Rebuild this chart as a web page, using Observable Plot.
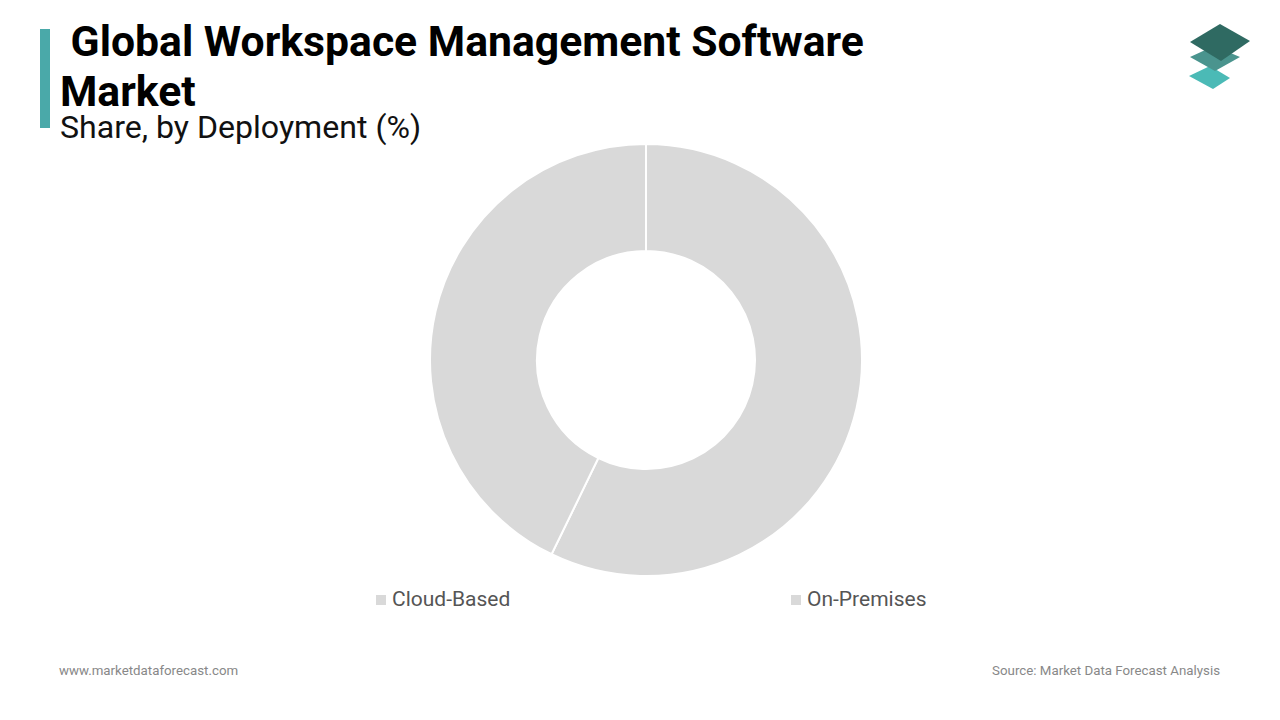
<!DOCTYPE html>
<html>
<head>
<meta charset="utf-8">
<script src="https://cdn.jsdelivr.net/npm/d3@7"></script>
<script src="https://cdn.jsdelivr.net/npm/@observablehq/plot@0.6"></script>
<style>
  html, body { margin: 0; padding: 0; background: #fff; }
  body { width: 1280px; height: 720px; position: relative; overflow: hidden; font-family: Roboto, "Noto Sans", sans-serif; }
  .bar { position: absolute; left: 40px; top: 29px; width: 10px; height: 99px; background: #4aa9a9; }
  .title { position: absolute; left: 60px; top: 16px; font-size: 42.7px; font-weight: 700; color: #000; line-height: 50px; white-space: pre; }
  .subtitle { position: absolute; left: 60px; top: 109px; font-size: 32.1px; color: #111; line-height: 36px; white-space: nowrap; }
  #chart { position: absolute; left: 0; top: 135px; }
  .legend { position: absolute; top: 587px; font-size: 21px; line-height: 24px; color: #555; display: flex; align-items: center; white-space: nowrap; }
  .legend .sw { width: 10px; height: 10px; margin-right: 6px; margin-top: 1px; }
  .foot { position: absolute; top: 663px; font-size: 13.3px; line-height: 16px; color: #888; white-space: nowrap; }
  .logo { position: absolute; left: 1170px; top: 15px; }
</style>
</head>
<body>
<div class="bar"></div>
<div class="title"> Global Workspace Management Software
Market</div>
<div class="subtitle">Share, by Deployment (%)</div>
<svg class="logo" width="100" height="85" viewBox="1170 15 100 85">
  <polygon points="1189,76 1210,66 1230,78 1213,89" fill="#4bbab6"/>
  <polygon points="1190,57 1214,46 1240,57 1215,71" fill="#4a948e"/>
  <polygon points="1190,42 1220,24 1250,41 1221,61" fill="#2f6a62"/>
</svg>
<div id="chart"></div>
<div id="legend"></div>
<div class="foot" style="left:59px">www.marketdataforecast.com</div>
<div class="foot" style="right:60px">Source: Market Data Forecast Analysis</div>
<script>
const categories = ["Cloud-Based", "On-Premises"];
const shares = [57.2, 42.8];
const colors = ["#d9d9d9", "#d9d9d9"];

const data = categories.map((c, i) => ({category: c, share: shares[i]}));

const W = 1280, H = 450;
const cx = 646, cy = 225, outerR = 216, innerR = 109;

function donutMark(index, scales, values, dimensions, context) {
  const pie = d3.pie().value(d => d.share).sort(null);
  const arc = d3.arc().innerRadius(innerR).outerRadius(outerR);
  const g = d3.create("svg:g").attr("transform", `translate(${cx},${cy})`);
  g.selectAll("path")
    .data(pie(data))
    .join("path")
    .attr("d", arc)
    .attr("fill", d => scales.color(d.data.category))
    .attr("stroke", "#fff")
    .attr("stroke-width", 2);
  return g.node();
}

const plot = Plot.plot({
  width: W,
  height: H,
  margin: 0,
  x: {axis: null, domain: [0, 1]},
  y: {axis: null, domain: [0, 1]},
  color: {domain: categories, range: colors},
  marks: [donutMark]
});
document.getElementById("chart").appendChild(plot);

const legendX = [376, 791];
const legend = document.getElementById("legend");
categories.forEach((c, i) => {
  const item = document.createElement("div");
  item.className = "legend";
  item.style.left = legendX[i] + "px";
  const sw = document.createElement("span");
  sw.className = "sw";
  sw.style.background = plot.scale("color").apply(c);
  const t = document.createElement("span");
  t.textContent = c;
  item.appendChild(sw);
  item.appendChild(t);
  legend.appendChild(item);
});
</script>
</body>
</html>
